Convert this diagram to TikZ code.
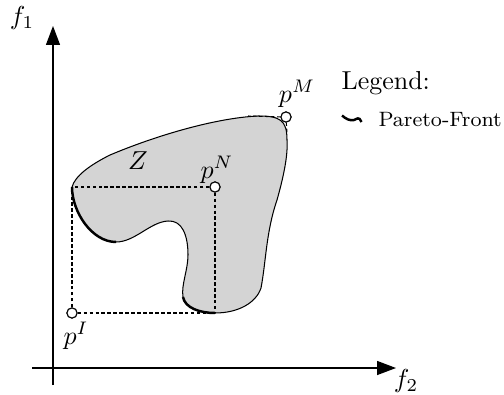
\documentclass[tikz,border=0pt]{standalone}
\usetikzlibrary{arrows.meta}
\begin{document}
\begin{tikzpicture}[x=0.385pt,y=-0.385pt,
  axis/.style={line width=0.45pt,-{Triangle[length=7.3pt,width=5.4pt]}},
  thinedge/.style={line width=0.4pt},
  front/.style={line width=0.95pt},
  guide/.style={line width=0.4pt,dash pattern=on 1.3pt off 1pt},
  pt/.style={circle,draw,fill=white,line width=0.4pt,inner sep=0pt,minimum size=3.9pt}]
\useasboundingbox (0,0) rectangle (504,394);
% axes
\coordinate (yb) at (53,385); \coordinate (yt) at (53,26);
\coordinate (xl) at (32,368); \coordinate (xr) at (396,368);
\draw[axis] (yb) -- (yt);
\draw[axis] (xl) -- (xr);
\node (f1) at (22,18) {$f_1$};
\node (f2) at (406,381) {$f_2$};
% shape points
\coordinate (A) at (72,187);
\coordinate (B) at (116,242);
\coordinate (C) at (168,221);
\coordinate (D) at (188,255);
\coordinate (E) at (183,297);
\coordinate (F) at (215,313);
\coordinate (G) at (261,288);
\coordinate (H) at (277,200);
\coordinate (I) at (287,140);
\coordinate (J) at (258,116);
\coordinate (K) at (110,155);
\fill[black!17] (A) .. controls (72,212) and (92,242) .. (B)
  .. controls (135,242) and (150,222) .. (C)
  .. controls (182,220) and (188,235) .. (D)
  .. controls (188,270) and (181,285) .. (E)
  .. controls (185,308) and (200,313) .. (F)
  .. controls (238,313) and (256,303) .. (G)
  .. controls (266,262) and (266,232) .. (H)
  .. controls (284,175) and (288,155) .. (I)
  .. controls (287,120) and (280,116) .. (J)
  .. controls (215,118) and (155,136) .. (K)
  .. controls (90,165) and (75,176) .. (A) -- cycle;
\draw[thinedge] (B)
  .. controls (135,242) and (150,222) .. (C)
  .. controls (182,220) and (188,235) .. (D)
  .. controls (188,270) and (181,285) .. (E);
\draw[thinedge] (F)
  .. controls (238,313) and (256,303) .. (G)
  .. controls (266,262) and (266,232) .. (H)
  .. controls (284,175) and (288,155) .. (I)
  .. controls (287,120) and (280,116) .. (J)
  .. controls (215,118) and (155,136) .. (K)
  .. controls (90,165) and (75,176) .. (A);
\draw[front] (A) .. controls (72,212) and (92,242) .. (B);
\draw[front] (E) .. controls (185,308) and (200,313) .. (F);
% points
\node[pt] (pI) at (72,313) {};
\node[pt] (pN) at (215,187) {};
\node[pt] (pM) at (286,117) {};
\coordinate (Mh) at (248,116);
\coordinate (Mv) at (287,134);
\draw[guide] (pI) -- (A);
\draw[guide] (pI) -- (F);
\draw[guide] (pN) -- (A);
\draw[guide] (pN) -- (F);
\draw[guide] (pM) -- (Mh);
\draw[guide] (pM) -- (Mv);
\node[pt] at (pI) {};
\node[pt] at (pN) {};
\node[pt] at (pM) {};
% labels
\node (Z) at (138,161) {$Z$};
\node (lN) at (217,170) {$p^N$};
\node (lM) at (297,94) {$p^M$};
\node (lI) at (76,336) {$p^I$};
% legend
\node[anchor=west,inner sep=0pt] (leg) at (341,83) {Legend:};
\coordinate (w1) at (342,115.5);
\coordinate (w2) at (361.5,122);
\draw[front] (w1) .. controls (346,119) and (350,121) .. (354,120) .. controls (357,119) and (359,116) .. (w2);
\node[anchor=west,inner sep=0pt,font=\footnotesize] (pf) at (378,120) {Pareto-Front};
\end{tikzpicture}
\end{document}
